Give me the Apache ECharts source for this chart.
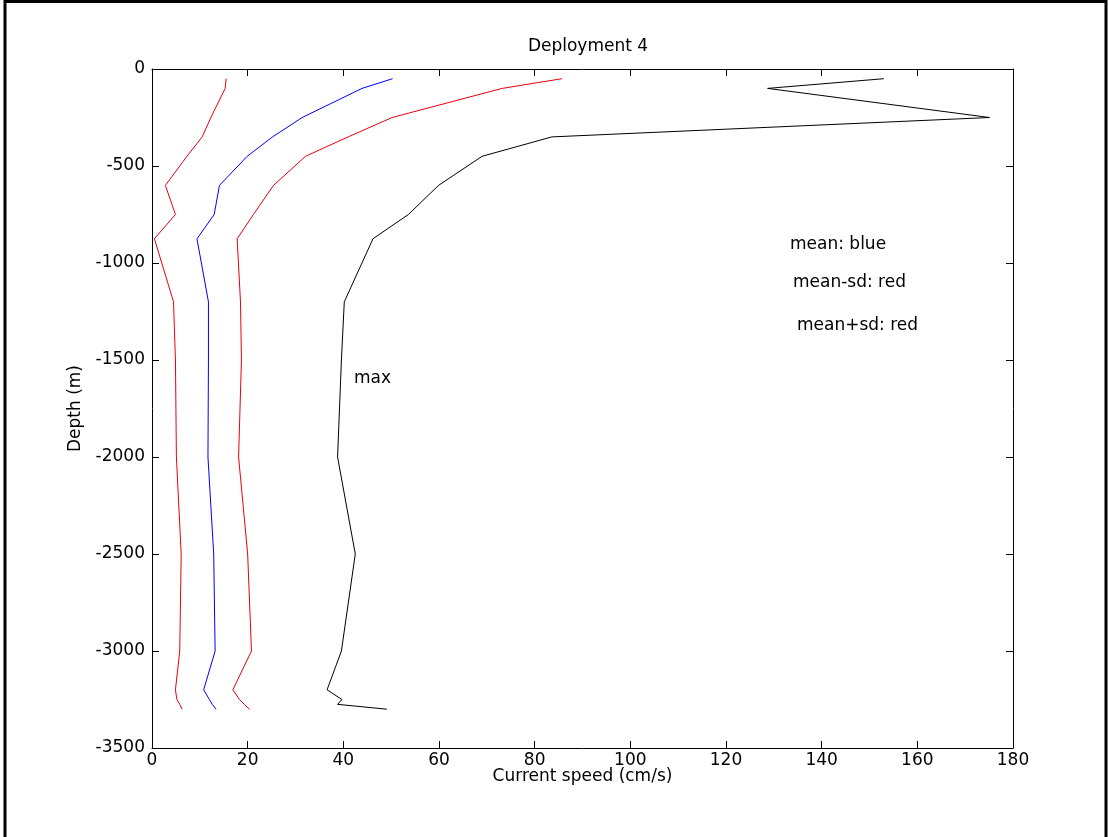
<!DOCTYPE html>
<html>
<head>
<meta charset="utf-8">
<script src="https://cdn.jsdelivr.net/npm/echarts@6/dist/echarts.min.js"></script>
<style>
  html, body { margin: 0; padding: 0; background: #fff; }
  #main { width: 1109px; height: 837px; }
</style>
</head>
<body>
<div id="main"></div>
<script>
// depth levels (m) and speeds (cm/s)
var depths    = [-50, -100, -250, -350, -450, -600, -750, -875, -1200, -1500, -2000, -2500, -3000, -3200, -3250, -3275, -3300];
var meanSpeed = [50.3, 43.9, 31.4, 25.2, 19.9, 14.1, 13.0, 9.4, 11.8, 11.8, 11.7, 12.9, 13.2, 10.8, 12.0, 12.6, 13.4];
var meanMinus = [15.5, 15.3, 12.3, 10.5, 7.3, 2.8, 4.9, 0.5, 4.5, 4.9, 5.1, 6.1, 5.8, 4.9, 5.2, 5.8, 6.3];
var meanPlus  = [85.7, 73.2, 50.2, 41.0, 32.1, 25.4, 21.2, 17.8, 18.5, 18.7, 18.1, 20.0, 20.8, 16.9, 18.3, 19.3, 20.4];
var maxSpeed  = [153.0, 128.7, 175.1, 83.6, 69.0, 59.9, 53.6, 46.2, 40.2, 39.6, 38.8, 42.5, 39.6, 36.6, 39.7, 38.8, 49.1];

var xTicks = [0, 180, 20];
var yTicks = [-3500, 0, 500];

var myChart = echarts.init(document.getElementById('main'));
var font = 'DejaVu Sans';
var fs = 17;

function pairs(vals) {
    return vals.map(function (v, i) { return [v, depths[i]]; });
}

function lineSeries(vals, color) {
    return {
        type: 'line',
        data: pairs(vals),
        showSymbol: false,
        silent: true,
        lineStyle: { color: color, width: 1 },
        z: 3
    };
}

var tickStyle = { show: true, inside: true, length: 7, lineStyle: { color: '#000', width: 1 } };
var lineAxis = { show: true, onZero: false, lineStyle: { color: '#000', width: 1 } };
// plain numbers, no thousands separator
var plain = function (v) { return String(v); };

var option = {
    animation: false,
    backgroundColor: '#fff',
    title: {
        text: 'Deployment 4',
        left: 583,
        top: 33,
        textAlign: 'center',
        textStyle: { fontFamily: font, fontSize: fs, fontWeight: 'normal', color: '#000' }
    },
    grid: { left: 152, top: 69, right: 96, bottom: 89, containLabel: false },
    xAxis: [{
        type: 'value',
        min: xTicks[0], max: xTicks[1], interval: xTicks[2],
        position: 'bottom',
        name: 'Current speed (cm/s)',
        nameLocation: 'middle',
        nameGap: 20,
        nameMoveOverlap: false,
        nameTextStyle: { fontFamily: font, fontSize: fs, color: '#000' },
        axisLine: lineAxis,
        axisTick: tickStyle,
        axisLabel: { fontFamily: font, fontSize: fs, color: '#000', margin: 4, formatter: plain },
        splitLine: { show: false }
    }, {
        type: 'value',
        min: xTicks[0], max: xTicks[1], interval: xTicks[2],
        position: 'top',
        axisLine: lineAxis,
        axisTick: tickStyle,
        axisLabel: { show: false },
        splitLine: { show: false }
    }],
    yAxis: [{
        type: 'value',
        min: yTicks[0], max: yTicks[1], interval: yTicks[2],
        position: 'left',
        name: 'Depth (m)',
        nameLocation: 'middle',
        nameGap: 68,
        nameMoveOverlap: false,
        nameTextStyle: { fontFamily: font, fontSize: fs, color: '#000' },
        axisLine: lineAxis,
        axisTick: tickStyle,
        axisLabel: { fontFamily: font, fontSize: fs, color: '#000', margin: 7, formatter: plain },
        splitLine: { show: false }
    }, {
        type: 'value',
        min: yTicks[0], max: yTicks[1], interval: yTicks[2],
        position: 'right',
        axisLine: lineAxis,
        axisTick: tickStyle,
        axisLabel: { show: false },
        splitLine: { show: false }
    }],
    graphic: [
        // outer frame of the figure
        { type: 'rect', shape: { x: 5, y: 1.5, width: 1101, height: 900 }, style: { fill: 'none', stroke: '#000', lineWidth: 3 }, silent: true },
        { type: 'text', left: 790, top: 236, style: { text: 'mean: blue', font: fs + 'px "DejaVu Sans"', fill: '#000' } },
        { type: 'text', left: 793, top: 274, style: { text: 'mean-sd: red', font: fs + 'px "DejaVu Sans"', fill: '#000' } },
        { type: 'text', left: 797, top: 317, style: { text: 'mean+sd: red', font: fs + 'px "DejaVu Sans"', fill: '#000' } },
        { type: 'text', left: 354, top: 370, style: { text: 'max', font: fs + 'px "DejaVu Sans"', fill: '#000' } }
    ],
    series: [
        lineSeries(meanMinus, '#e8000f'),
        lineSeries(meanSpeed, '#0000ff'),
        lineSeries(meanPlus, '#e8000f'),
        lineSeries(maxSpeed, '#000000')
    ]
};
myChart.setOption(option);
</script>
</body>
</html>
